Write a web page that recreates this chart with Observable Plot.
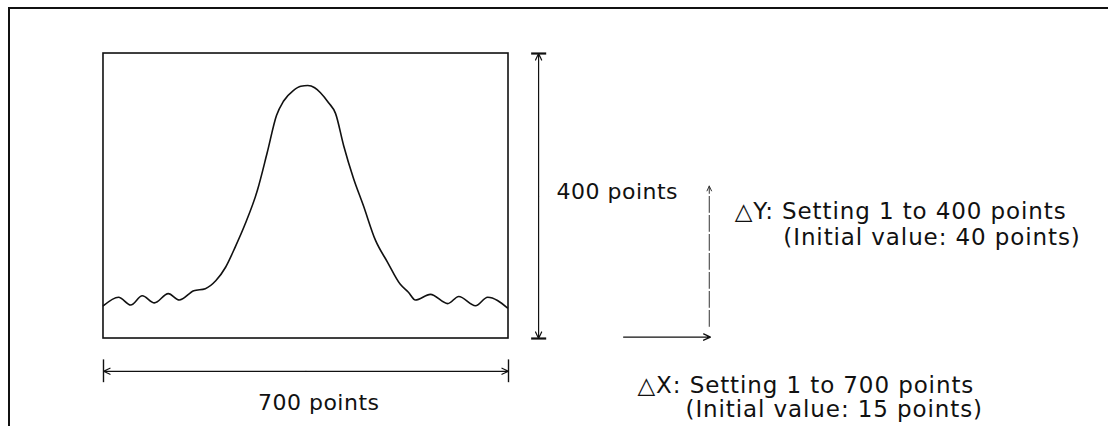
<!DOCTYPE html>
<html>
<head>
<meta charset="utf-8">
<script src="https://cdn.jsdelivr.net/npm/d3@7"></script>
<script src="https://cdn.jsdelivr.net/npm/@observablehq/plot@0.6"></script>
<style>
  html, body { margin: 0; padding: 0; background: #fff; }
  #wrap { position: relative; width: 1108px; height: 426px; overflow: hidden; }
  #frame { position: absolute; left: 8px; top: 7px; width: 1108px; height: 430px;
           border-top: 2px solid #111; border-left: 2px solid #111; box-sizing: border-box; }
  #chart { position: absolute; left: 0; top: 0; }
</style>
</head>
<body>
<div id="wrap"><div id="frame"></div><div id="chart"></div></div>
<script>
// Screen extent in "points"
const screenX = [0, 700];
const screenY = [0, 400];

// Waveform (x: 0..700 points, y: 0..400 points)
const waveX = [0, 26, 47, 67, 88, 112, 131, 156, 176, 194, 211, 228, 245, 266, 283, 299, 311, 328, 341, 353, 365, 375, 389, 401, 415, 432, 449, 470, 491, 513, 527, 539, 565, 595, 614, 643, 664, 698];
const waveY = [46, 58, 47, 60, 50, 63, 54, 67, 70, 81, 100, 129, 161, 208, 261, 313, 333, 348, 354, 355, 352, 345, 331, 316, 271, 225, 187, 138, 107, 76, 65, 54, 62, 49, 59, 46, 58, 43];

// Texts
const widthLabel = "700 points";
const heightLabel = "400 points";
const dyLines = ["\u25B3Y: Setting 1 to 400 points", "(Initial value: 40 points)"];
const dxLines = ["\u25B3X: Setting 1 to 700 points", "(Initial value: 15 points)"];

const wave = waveX.map((x, i) => ({x, y: waveY[i]}));

const font = "'DejaVu Sans', Verdana, sans-serif";
const smallText = {fontSize: 22, fill: "#111", fontFamily: font, lineAnchor: "middle"};
const noteText = {fontSize: 23, fill: "#111", fontFamily: font, lineAnchor: "middle"};

const chart = Plot.plot({
  width: 1108,
  height: 426,
  margin: 0,
  x: {domain: [-178, 1737], axis: null},
  y: {domain: [-123.5, 474.4], axis: null},
  style: {background: "transparent", overflow: "visible"},
  marks: [
    // screen box
    Plot.rect([{}], {x1: screenX[0], x2: screenX[1], y1: screenY[0], y2: screenY[1], fill: "none", stroke: "#111", strokeWidth: 1.6}),
    // waveform
    Plot.line(wave, {x: "x", y: "y", curve: "monotone-x", stroke: "#111", strokeWidth: 1.6}),
    // vertical dimension (400 points)
    Plot.arrow([{y2: screenY[1]}, {y2: screenY[0]}], {x1: 752, x2: 752, y1: 200, y2: "y2", stroke: "#111", strokeWidth: 1.2, headLength: 9, headAngle: 50}),
    Plot.ruleY([screenY[0], screenY[1]], {x1: 740, x2: 766, stroke: "#111", strokeWidth: 2.2}),
    // horizontal dimension (700 points)
    Plot.arrow([{x2: screenX[0]}, {x2: screenX[1]}], {y1: -46, y2: -46, x1: 350, x2: "x2", stroke: "#111", strokeWidth: 1.2, headLength: 9, headAngle: 50}),
    Plot.ruleX([screenX[0], screenX[1]], {y1: -30, y2: -62, stroke: "#111", strokeWidth: 1.4}),
    // delta Y arrow
    Plot.arrow([{}], {x1: 1047, x2: 1047, y1: 17, y2: 214, stroke: "#333", strokeWidth: 1, strokeDasharray: "16,3", headLength: 8, headAngle: 50}),
    // delta X arrow
    Plot.arrow([{}], {x1: 899, x2: 1049, y1: 2, y2: 2, stroke: "#111", strokeWidth: 1.4, headLength: 8, headAngle: 50}),
    // texts
    Plot.text([widthLabel], {x: 372, y: -91, text: d => d, textAnchor: "middle", ...smallText}),
    Plot.text([heightLabel], {x: 783, y: 205, text: d => d, textAnchor: "start", ...smallText}),
    Plot.text([dyLines[0]], {x: 1091, y: 178, text: d => d, textAnchor: "start", ...noteText}),
    Plot.text([dyLines[1]], {x: 1689, y: 142, text: d => d, textAnchor: "end", ...noteText}),
    Plot.text([dxLines[0]], {x: 923, y: -66, text: d => d, textAnchor: "start", ...noteText}),
    Plot.text([dxLines[1]], {x: 1006, y: -100, text: d => d, textAnchor: "start", ...noteText})
  ]
});
// letter spacing like the typeset original
d3.select(chart).selectAll("text").each(function() {
  const t = this.textContent;
  this.style.letterSpacing = (t === widthLabel || t === heightLabel) ? "0.5px" : "0.9px";
});
document.getElementById("chart").appendChild(chart);
</script>
</body>
</html>
